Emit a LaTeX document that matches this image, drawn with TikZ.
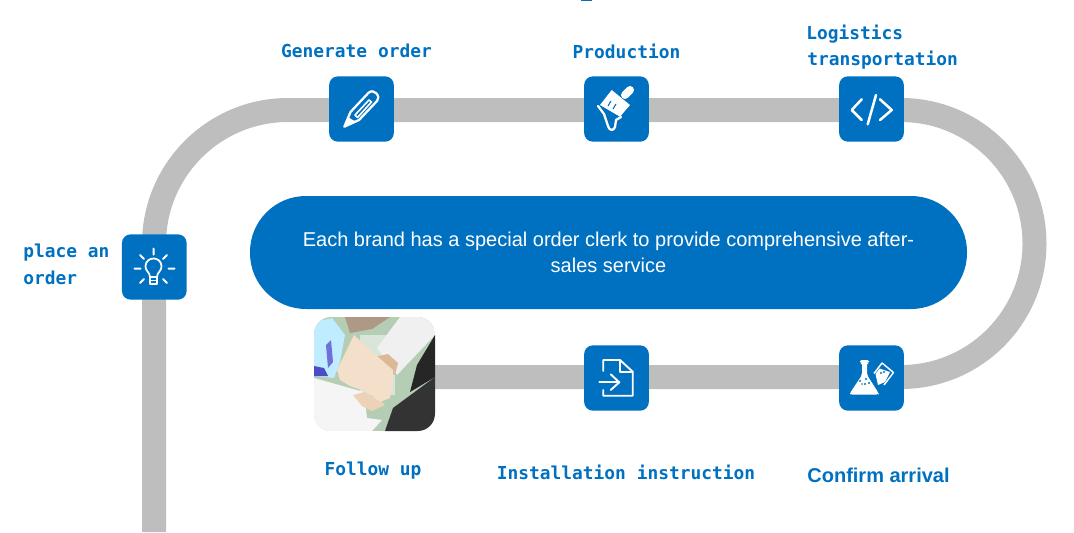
\documentclass[tikz,border=0pt]{standalone}
\usepackage{fontspec}
\setmainfont{Liberation Sans}
\newfontfamily\labelfont{DejaVu Sans Mono}
\usetikzlibrary{backgrounds}
\definecolor{brandblue}{HTML}{0070C0}
\definecolor{trackgray}{HTML}{BEBEBE}
\tikzset{
  x=0.75pt,y=-0.75pt,
  iconbox/.style={fill=brandblue,rounded corners=6.5pt,minimum width=48.5pt,minimum height=49pt,inner sep=0pt},
  tracklink/.style={draw=trackgray,line width=18pt},
  steplabel/.style={text=brandblue,font=\labelfont\bfseries\fontsize{13.4}{19}\selectfont,inner sep=0pt},
  glyph/.style={draw=white,line width=1.7pt,line cap=round,line join=round},
  glyphfill/.style={fill=white,draw=none},
}
\begin{document}
\begin{tikzpicture}
\useasboundingbox (0,0) rectangle (1074,532);
\fill[brandblue] (581,0) rectangle (592,1);

% nodes
\node[iconbox] (bulb) at (154.3,267) {};
\node[iconbox] (pencil) at (361.5,109) {};
\node[iconbox] (brush) at (616.5,109) {};
\node[iconbox] (code) at (871.5,109) {};
\node[iconbox] (flask) at (871.5,378) {};
\node[iconbox] (install) at (616.5,378) {};
\node[minimum width=90.75pt,minimum height=85.5pt,inner sep=0pt] (photo) at (374.5,374) {};
\coordinate (trackend) at (154,532);
\coordinate (arcleftstart) at (154,244);
\coordinate (arclefttop) at (288,110);
\coordinate (arcrighttop) at (901,110);
\coordinate (arcrightend) at (901,377);

\begin{scope}[on background layer]
  \draw[tracklink] (trackend) -- (arcleftstart) arc[start angle=180,end angle=90,radius=100.5pt] -- (arclefttop) -- (arcrighttop) arc[start angle=90,end angle=-90,radius=100.125pt] -- (arcrightend) -- (photo.east |- arcrightend) -- (photo.center |- arcrightend);
\end{scope}

% centre pill
\node[fill=brandblue,text=white,rounded corners=42pt,minimum width=537.75pt,minimum height=84.75pt,inner sep=0pt,align=center,font=\fontsize{15}{19.5}\selectfont] (pill) at (608.5,252.5) {Each brand has a special order clerk to provide comprehensive after-\\sales service};

% photo
\begin{scope}
  \clip[rounded corners=13pt] (314,317) rectangle (435,431);
  \fill[white!85!green!60!gray] (314,317) rectangle (435,431);
  \fill[gray!60!brown!80] (345,317) -- (390,317) -- (372,329) -- (350,333) -- cycle;
  \fill[green!20!gray!25] (360,335) rectangle (395,395);
  \fill[gray!12] (377,348) -- (400,317) -- (435,317) -- (435,335) -- (397,375) -- cycle;
  \fill[black!85] (435,335) -- (417,365) -- (410,392) -- (435,377) -- cycle;
  \fill[black!80] (385,431) -- (393,408) -- (435,377) -- (435,431) -- cycle;
  \fill[gray!8] (314,378) -- (364,392) -- (367,418) -- (382,420) -- (372,431) -- (314,431) -- cycle;
  \fill[brown!55!white] (370,358) -- (388,354) -- (398,363) -- (395,375) -- (385,372) -- cycle;
  \fill[orange!25!brown!35!white] (364,392) -- (382,402) -- (385,405) -- (372,411) -- (362,406) -- (353,395) -- cycle;
  \fill[orange!30!brown!25!white] (354,335) -- (370,350) -- (393,370) -- (393,385) -- (390,398) -- (380,402) -- (367,392) -- (350,386) -- (340,380) -- (337,370) -- cycle;
  \fill[blue!30!cyan!25!white] (314,322) -- (332,318) -- (345,335) -- (340,362) -- (334,378) -- (314,376) -- cycle;
  \fill[blue!60!gray!70] (326,345) -- (331,340) -- (333,362) -- (328,368) -- cycle;
  \fill[blue!70!black!70] (314,366) -- (324,368) -- (328,376) -- (314,376) -- cycle;
\end{scope}

% pencil
\draw[glyph] (344.3,126.7) -- (350.5,112) -- (368.3,93) .. controls (371,90.5) and (374,91) .. (376,93) .. controls (379,96) and (379,99) .. (377,101) -- (359,120) -- cycle;
\draw[glyph,line width=1.2pt] (355,115) -- (369,100) -- (371.5,102) -- (357.5,117.5) -- cycle;
\fill[white] (344.3,126.7) -- (348,117) -- (351,119) -- (355,121) -- cycle;

% brush
\draw[white,line width=6pt,line cap=round] (630,90) -- (625,95);
\fill[white] (611.7,90) -- (630,105) -- (620,116.7) -- (600,105) -- cycle;
\draw[glyph] (598,106) -- (604,114) -- (608,126) .. controls (609,131) and (614,131) .. (615,127) -- (616,120) -- (621,117);
\draw[brandblue,line width=0.8pt] (611,101) -- (608,106) (616,104) -- (613,109);

% code
\draw[glyph,line width=1.9pt] (861.7,99.3) -- (851.7,110) -- (861.7,120);
\draw[glyph,line width=1.9pt] (880,99.3) -- (891.7,110) -- (880,120);
\draw[glyph,line width=1.9pt] (876,95) -- (867.7,124.3);

% bulb
\draw[glyph,line width=1.3pt] (150,277) .. controls (150,272) and (145,271) .. (145.5,266) .. controls (146,256) and (161,256) .. (161.5,266) .. controls (162,271) and (157,272) .. (157,277) -- cycle;
\draw[glyph,line width=1.3pt] (150,277) -- (150,284) -- (157,284) -- (157,277);
\draw[glyph,line width=1.3pt] (150,280.5) -- (157,280.5);
\draw[glyph,line width=1.5pt]
  (153.5,248.5) -- (153.5,254.5) (134.5,268.5) -- (140.5,268.5) (168.5,268.5) -- (174.5,268.5)
  (140,255) -- (144,259) (167,255) -- (163,259) (140,283) -- (144,279) (167,283) -- (163,279);

% install
\draw[glyph,line width=1.4pt] (603.3,371) -- (603.3,360) -- (620,360) -- (632.7,371.7) -- (632.7,395.7) -- (603.3,395.7) -- (603.3,390);
\draw[glyph,line width=1.4pt] (620,360) -- (620,371.7) -- (632.7,371.7);
\draw[glyph,line width=1.4pt] (599.3,382.3) -- (619.3,382.3);
\draw[glyph,line width=1.4pt] (610.7,374.3) -- (619.3,382.3) -- (610.7,390);

% flask
\fill[white,rounded corners=1.5pt] (860,360) -- (869,360) -- (869,363) -- (867,363) -- (867,375) -- (878.5,393) -- (878.5,394.5) -- (850,394.5) -- (850,393) -- (862,375) -- (862,363) -- (860,363) -- cycle;
\fill[brandblue] (860,381) circle (1.1) (866,379) circle (1.1) (865,384) circle (1.1) (869,383) circle (1.1) (862,384) circle (0.9);
\draw[white,line width=1.1pt,line join=round] (874,373.5) -- (882,363) -- (893.5,372.5) -- (884,385);
\fill[white] (875.5,374) -- (879.5,368.5) -- (890,372) -- (885,382) -- (878,385) -- cycle;
\fill[brandblue] (881,373) circle (1.1) (884,372) circle (1.1);

% labels
\node[steplabel] (lgen) at (356.5,51) {Generate order};
\node[steplabel] (lprod) at (626.5,51) {Production};
\node[steplabel,anchor=west] (llog) at (806,34) {Logistics};
\node[steplabel,anchor=west] (ltrans) at (807,60) {transportation};
\node[steplabel,anchor=west] (lplace) at (23,253) {place an};
\node[steplabel,anchor=west] (lorder) at (23,278) {order};
\node[steplabel] (lfollow) at (373,471) {Follow up};
\node[steplabel] (linst) at (626,472) {Installation instruction};
\node[text=brandblue,inner sep=0pt,font=\bfseries\fontsize{15}{19}\selectfont] (lconf) at (878.5,475) {Confirm arrival};
\end{tikzpicture}
\end{document}
